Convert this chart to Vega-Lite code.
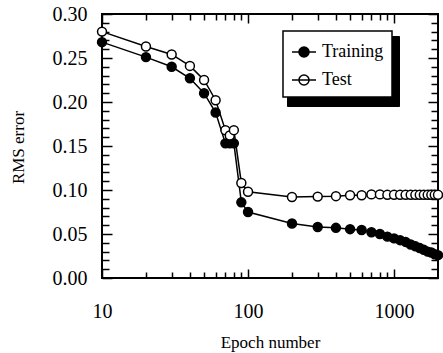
{
  "$schema": "https://vega.github.io/schema/vega-lite/v6.json",
  "width": 336,
  "height": 264,
  "autosize": "none",
  "padding": {"left": 102, "top": 14, "right": 5, "bottom": 75},
  "background": "white",
  "config": {
    "view": {"stroke": "black", "strokeWidth": 2},
    "font": "Liberation Serif",
    "axis": {"grid": false, "domain": false, "labelFont": "Liberation Serif", "titleFont": "Liberation Serif", "tickColor": "black", "labelColor": "black", "titleColor": "black", "titleFontWeight": "normal", "tickWidth": 1.5},
    "legend": {"labelFont": "Liberation Serif"}
  },
  "datasets": {
    "main": [
      {"epoch": 10, "rms": 0.268, "series": "Training"},
      {"epoch": 20, "rms": 0.251, "series": "Training"},
      {"epoch": 30, "rms": 0.240, "series": "Training"},
      {"epoch": 40, "rms": 0.227, "series": "Training"},
      {"epoch": 50, "rms": 0.210, "series": "Training"},
      {"epoch": 60, "rms": 0.188, "series": "Training"},
      {"epoch": 70, "rms": 0.153, "series": "Training"},
      {"epoch": 75, "rms": 0.153, "series": "Training"},
      {"epoch": 80, "rms": 0.153, "series": "Training"},
      {"epoch": 90, "rms": 0.086, "series": "Training"},
      {"epoch": 100, "rms": 0.075, "series": "Training"},
      {"epoch": 200, "rms": 0.062, "series": "Training"},
      {"epoch": 300, "rms": 0.058, "series": "Training"},
      {"epoch": 400, "rms": 0.057, "series": "Training"},
      {"epoch": 500, "rms": 0.0555, "series": "Training"},
      {"epoch": 600, "rms": 0.0545, "series": "Training"},
      {"epoch": 700, "rms": 0.052, "series": "Training"},
      {"epoch": 800, "rms": 0.050, "series": "Training"},
      {"epoch": 900, "rms": 0.047, "series": "Training"},
      {"epoch": 1000, "rms": 0.045, "series": "Training"},
      {"epoch": 1100, "rms": 0.043, "series": "Training"},
      {"epoch": 1200, "rms": 0.041, "series": "Training"},
      {"epoch": 1300, "rms": 0.038, "series": "Training"},
      {"epoch": 1400, "rms": 0.036, "series": "Training"},
      {"epoch": 1500, "rms": 0.034, "series": "Training"},
      {"epoch": 1600, "rms": 0.032, "series": "Training"},
      {"epoch": 1700, "rms": 0.030, "series": "Training"},
      {"epoch": 1800, "rms": 0.029, "series": "Training"},
      {"epoch": 1900, "rms": 0.027, "series": "Training"},
      {"epoch": 2000, "rms": 0.026, "series": "Training"},
      {"epoch": 10, "rms": 0.280, "series": "Test"},
      {"epoch": 20, "rms": 0.263, "series": "Test"},
      {"epoch": 30, "rms": 0.254, "series": "Test"},
      {"epoch": 40, "rms": 0.241, "series": "Test"},
      {"epoch": 50, "rms": 0.225, "series": "Test"},
      {"epoch": 60, "rms": 0.202, "series": "Test"},
      {"epoch": 70, "rms": 0.168, "series": "Test"},
      {"epoch": 75, "rms": 0.162, "series": "Test"},
      {"epoch": 80, "rms": 0.168, "series": "Test"},
      {"epoch": 90, "rms": 0.108, "series": "Test"},
      {"epoch": 100, "rms": 0.098, "series": "Test"},
      {"epoch": 200, "rms": 0.092, "series": "Test"},
      {"epoch": 300, "rms": 0.0925, "series": "Test"},
      {"epoch": 400, "rms": 0.093, "series": "Test"},
      {"epoch": 500, "rms": 0.094, "series": "Test"},
      {"epoch": 600, "rms": 0.094, "series": "Test"},
      {"epoch": 700, "rms": 0.095, "series": "Test"},
      {"epoch": 800, "rms": 0.095, "series": "Test"},
      {"epoch": 900, "rms": 0.0945, "series": "Test"},
      {"epoch": 1000, "rms": 0.0945, "series": "Test"},
      {"epoch": 1100, "rms": 0.0945, "series": "Test"},
      {"epoch": 1200, "rms": 0.0945, "series": "Test"},
      {"epoch": 1300, "rms": 0.0945, "series": "Test"},
      {"epoch": 1400, "rms": 0.0945, "series": "Test"},
      {"epoch": 1500, "rms": 0.0945, "series": "Test"},
      {"epoch": 1600, "rms": 0.0945, "series": "Test"},
      {"epoch": 1700, "rms": 0.0945, "series": "Test"},
      {"epoch": 1800, "rms": 0.0945, "series": "Test"},
      {"epoch": 1900, "rms": 0.0945, "series": "Test"},
      {"epoch": 2000, "rms": 0.0945, "series": "Test"}
    ],
    "keys": [{"s": "Training"}, {"s": "Test"}]
  },
  "data": {"name": "main"},
  "layer": [
    {
      "data": {"name": "keys"},
      "mark": {"type": "point", "opacity": 0},
      "encoding": {
        "fill": {"field": "s", "type": "nominal", "scale": {"range": ["black", "black"]},
          "legend": {"orient": "none", "legendX": 185, "legendY": 22, "title": null, "padding": 15, "columns": 2, "columnPadding": 0, "strokeColor": "black", "fillColor": "black", "labelExpr": "''", "labelOffset": 0, "labelFontSize": 1, "symbolType": "square", "symbolSize": 1521, "symbolOpacity": 0}}
      }
    },
    {
      "mark": {"type": "line", "color": "black", "strokeWidth": 1.5, "clip": false},
      "encoding": {
        "x": {"field": "epoch", "type": "quantitative", "scale": {"type": "log", "domain": [10, 2000], "nice": false},
          "axis": {"orient": "bottom", "values": [10, 100, 1000], "format": "d", "ticks": false, "labelPadding": 23, "labelFontSize": 20, "labelFlush": false, "labelOverlap": false, "title": "Epoch number", "titleFontSize": 17, "titleX": 168, "titleY": 69, "titleBaseline": "alphabetic"}},
        "y": {"field": "rms", "type": "quantitative", "scale": {"domain": [0, 0.3], "nice": false, "zero": false},
          "axis": {"orient": "left", "values": [0, 0.05, 0.1, 0.15, 0.2, 0.25, 0.3], "format": ".2f", "ticks": false, "labelPadding": 15, "labelFontSize": 20, "labelFlush": false, "labelOverlap": false, "title": "RMS error", "titleFontSize": 17, "titleX": -84, "titleY": 133, "titleBaseline": "middle"}},
        "detail": {"field": "series"}
      }
    },
    {
      "mark": {"type": "point", "filled": true, "stroke": "black", "strokeWidth": 1.5, "size": 80, "opacity": 1, "clip": false},
      "encoding": {
        "x": {"field": "epoch", "type": "quantitative", "axis": {"orient": "bottom", "values": [10, 100, 1000], "tickSize": -9, "labels": false, "title": null}},
        "y": {"field": "rms", "type": "quantitative", "axis": {"orient": "left", "values": [0, 0.05, 0.1, 0.15, 0.2, 0.25, 0.3], "tickSize": -10, "labels": false, "title": null}},
        "color": {"field": "series", "type": "nominal", "scale": {"domain": ["Training", "Test"], "range": ["black", "white"]},
          "legend": {"orient": "none", "legendX": 181, "legendY": 17, "title": null, "padding": 8, "strokeColor": "black", "fillColor": "white", "labelFontSize": 18, "labelOffset": 5, "rowPadding": 6, "labelLimit": 0, "symbolType": "M-1,0L1,0M0.42,0A0.42,0.42,0,1,1,-0.42,0A0.42,0.42,0,1,1,0.42,0Z", "symbolSize": 576, "symbolStrokeWidth": 1.5, "symbolStrokeColor": "black", "symbolOpacity": 1, "labelColor": "black",
            "encode": {"legend": {"update": {"strokeWidth": {"value": 1.5}}}, "symbols": {"update": {"stroke": {"value": "black"}}}}}}
      }
    },
    {
      "mark": {"type": "point", "opacity": 0},
      "encoding": {
        "x": {"field": "epoch", "type": "quantitative", "axis": {"orient": "bottom", "values": [20, 30, 40, 50, 60, 70, 80, 90, 200, 300, 400, 500, 600, 700, 800, 900], "tickSize": -6, "labels": false, "title": null}},
        "y": {"field": "rms", "type": "quantitative", "axis": {"orient": "left", "values": [0.01, 0.02, 0.03, 0.04, 0.06, 0.07, 0.08, 0.09, 0.11, 0.12, 0.13, 0.14, 0.16, 0.17, 0.18, 0.19, 0.21, 0.22, 0.23, 0.24, 0.26, 0.27, 0.28, 0.29], "tickSize": -7, "labels": false, "title": null}}
      }
    },
    {
      "mark": {"type": "point", "opacity": 0},
      "encoding": {
        "x": {"field": "epoch", "type": "quantitative", "axis": {"orient": "top", "values": [10, 100, 1000], "tickSize": -9, "labels": false, "title": null}},
        "y": {"field": "rms", "type": "quantitative", "axis": {"orient": "right", "values": [0, 0.05, 0.1, 0.15, 0.2, 0.25, 0.3], "tickSize": -10, "labels": false, "title": null}}
      }
    },
    {
      "mark": {"type": "point", "opacity": 0},
      "encoding": {
        "x": {"field": "epoch", "type": "quantitative", "axis": {"orient": "top", "values": [20, 30, 40, 50, 60, 70, 80, 90, 200, 300, 400, 500, 600, 700, 800, 900], "tickSize": -6, "labels": false, "title": null}},
        "y": {"field": "rms", "type": "quantitative", "axis": {"orient": "right", "values": [0.01, 0.02, 0.03, 0.04, 0.06, 0.07, 0.08, 0.09, 0.11, 0.12, 0.13, 0.14, 0.16, 0.17, 0.18, 0.19, 0.21, 0.22, 0.23, 0.24, 0.26, 0.27, 0.28, 0.29], "tickSize": -7, "labels": false, "title": null}}
      }
    }
  ],
  "resolve": {"axis": {"x": "independent", "y": "independent"}}
}
